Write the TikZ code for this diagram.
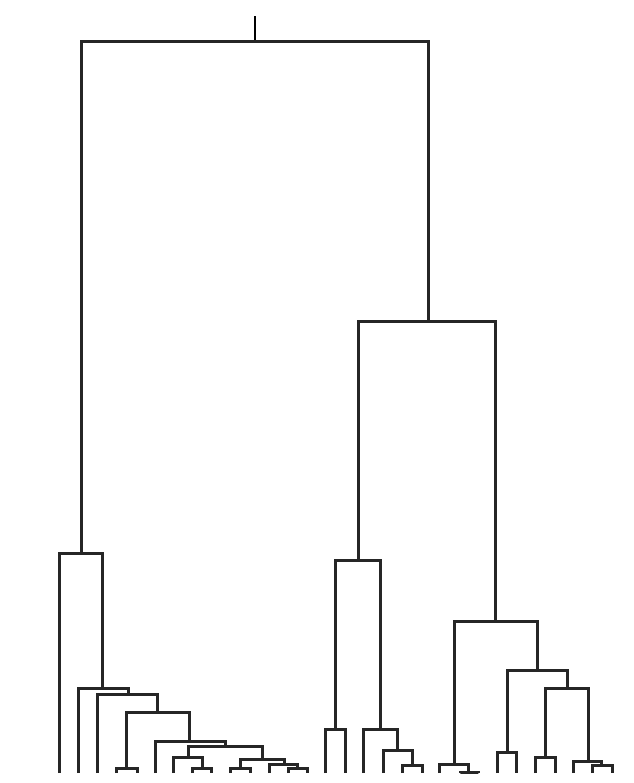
\documentclass[tikz,border=0pt]{standalone}
\begin{document}
\begin{tikzpicture}[x=1pt,y=-1pt,
  dend/.style={draw=black!85,line width=3pt,line join=miter},
  stub/.style={draw=black,line width=2.2pt}]
\useasboundingbox (0,0) rectangle (633,783);
\newcommand{\dlink}[3]{\draw[dend] (#2) |- (#1) -| (#3);}
% leaves (bottom ends)
\foreach \n/\x in {a/59,b/78,c/97,d/116,e/137,f/155,g/173,h/192,i/211,j/230,k/250,l/269,m/288,n/307,
  o/325,p/345,q/363,r/383,s/402,t/422,u/439,v/460,w/478,x/497,y/516,z/535,aa/555,ab/573,ac/592,ad/612}
  \coordinate (L\n) at (\x,773);
% merge points
\coordinate (top) at (255,16);
\coordinate (root) at (255,42);
\coordinate (LL) at (81,553);
\coordinate (A) at (102,688);
\coordinate (B) at (128,694);
\coordinate (C) at (157,712);
\coordinate (D) at (126,768);
\coordinate (E) at (189,741);
\coordinate (F) at (225,746);
\coordinate (G) at (188,757);
\coordinate (I) at (202,768);
\coordinate (H) at (262,759);
\coordinate (J) at (240,768);
\coordinate (K) at (284,764);
\coordinate (M) at (297,768);
\coordinate (RR) at (428,321);
\coordinate (MM) at (358,560);
\coordinate (N) at (335,729);
\coordinate (O) at (380,729);
\coordinate (P) at (397,750);
\coordinate (Q) at (412,765);
\coordinate (R) at (495,621);
\coordinate (S) at (454,764);
\coordinate (U) at (468,772);
\coordinate (T) at (537,670);
\coordinate (V) at (507,752);
\coordinate (W) at (567,688);
\coordinate (X) at (545,757);
\coordinate (Y) at (588,761);
\coordinate (Z) at (601,765);
% links
\draw[stub] (root) -- (top);
\dlink{root}{LL}{RR}
\dlink{LL}{La}{A}
\dlink{A}{Lb}{B}
\dlink{B}{Lc}{C}
\dlink{C}{D}{E}
\dlink{D}{Ld}{Le}
\dlink{E}{Lf}{F}
\dlink{F}{G}{H}
\dlink{G}{Lg}{I}
\dlink{I}{Lh}{Li}
\dlink{H}{J}{K}
\dlink{J}{Lj}{Lk}
\dlink{K}{Ll}{M}
\dlink{M}{Lm}{Ln}
\dlink{RR}{MM}{R}
\dlink{MM}{N}{O}
\dlink{N}{Lo}{Lp}
\dlink{O}{Lq}{P}
\dlink{P}{Lr}{Q}
\dlink{Q}{Ls}{Lt}
\dlink{R}{S}{T}
\dlink{S}{Lu}{U}
\dlink{U}{Lv}{Lw}
\dlink{T}{V}{W}
\dlink{V}{Lx}{Ly}
\dlink{W}{X}{Y}
\dlink{X}{Lz}{Laa}
\dlink{Y}{Lab}{Z}
\dlink{Z}{Lac}{Lad}
\end{tikzpicture}
\end{document}
